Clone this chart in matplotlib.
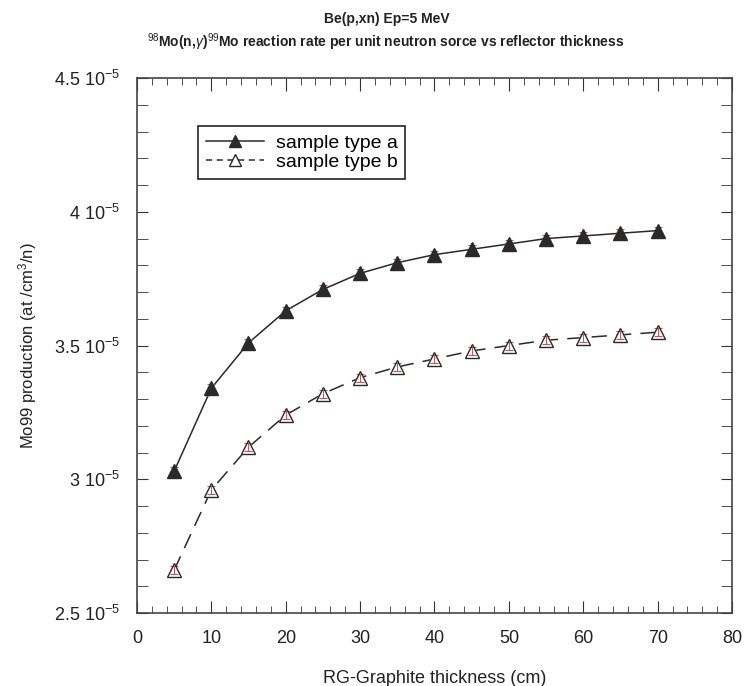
import matplotlib
matplotlib.use("Agg")
import matplotlib.pyplot as plt
from matplotlib.ticker import MultipleLocator, FuncFormatter

plt.rcParams['font.family'] = ['Liberation Sans', 'DejaVu Sans']
plt.rcParams['mathtext.fontset'] = 'custom'
plt.rcParams['mathtext.rm'] = 'Liberation Sans'
plt.rcParams['mathtext.it'] = 'Liberation Sans:italic'
plt.rcParams['mathtext.bf'] = 'Liberation Sans:bold'

# thickness (cm)
thickness = [5, 10, 15, 20, 25, 30, 35, 40, 45, 50, 55, 60, 65, 70]
# Mo99 production (at/cm3/n)
type_a = [3.03e-5, 3.34e-5, 3.51e-5, 3.63e-5, 3.71e-5, 3.77e-5, 3.81e-5,
          3.84e-5, 3.86e-5, 3.88e-5, 3.90e-5, 3.91e-5, 3.92e-5, 3.93e-5]
type_b = [2.66e-5, 2.96e-5, 3.12e-5, 3.24e-5, 3.32e-5, 3.38e-5, 3.42e-5,
          3.45e-5, 3.48e-5, 3.50e-5, 3.52e-5, 3.53e-5, 3.54e-5, 3.55e-5]
err = 0.015e-5

fig = plt.figure(figsize=(7.44, 6.86), dpi=100)
ax = fig.add_axes([0.184, 0.1064, 0.8, 0.7797])

lc = '#2a2a2a'
# lines
ax.plot(thickness, type_a, '-', color=lc, lw=1.1, zorder=1)
ax.plot(thickness, type_b, color=lc, lw=1.1, dashes=(10, 6), zorder=1)
# white fill under hollow markers
ax.plot(thickness, type_b, ls='none', marker='^', ms=9.5, mfc='white', mec='white', zorder=2)
# small red error bars
ax.errorbar(thickness, type_a, yerr=err, fmt='none', ecolor='#d05050', elinewidth=0.7,
            capsize=3, capthick=0.8, zorder=3)
ax.errorbar(thickness, type_b, yerr=err, fmt='none', ecolor='#d05050', elinewidth=0.7,
            capsize=3, capthick=0.8, zorder=3)
ax.plot(thickness, type_a, ls='none', marker='^', ms=9.5, mfc=lc, mec=lc, zorder=4)
ax.plot(thickness, type_b, ls='none', marker='^', ms=9.5, mfc='none', mec=lc, mew=1, zorder=4)

# legend proxies
ha, = ax.plot([], [], '-', color=lc, lw=1.1, marker='^', ms=8, mfc=lc, mec=lc)
hb, = ax.plot([], [], color=lc, lw=1.1, dashes=(4, 3), marker='^', ms=8, mfc='white', mec=lc)
leg = ax.legend([ha, hb], ['sample type a', 'sample type b'], loc='upper left',
                bbox_to_anchor=(0.1025, 0.91), borderaxespad=0, fontsize=14,
                fancybox=False, edgecolor='#222222', framealpha=1, handlelength=3,
                handletextpad=0.6, labelspacing=0.1, borderpad=0.4)
leg.get_frame().set_linewidth(1.2)

ax.set_xlim(0, 80)
ax.set_ylim(2.5e-5, 4.5e-5)
ax.xaxis.set_major_locator(MultipleLocator(10))
ax.xaxis.set_minor_locator(MultipleLocator(2))
ax.yaxis.set_major_locator(MultipleLocator(0.5e-5))
ax.yaxis.set_minor_locator(MultipleLocator(0.1e-5))
ax.yaxis.set_major_formatter(FuncFormatter(lambda v, p: f"{v*1e5:g} 10$^{{-5}}$"))

ax.tick_params(which='both', direction='in', top=True, right=True, colors='#333333',
               labelsize=13, labelcolor='#222222')
ax.tick_params(axis='x', which='major', length=9, pad=12)
ax.tick_params(axis='x', which='minor', length=5)
ax.tick_params(axis='y', which='both', length=8, pad=12)
for s in ax.spines.values():
    s.set_linewidth(1.2)
    s.set_color('#444444')

ax.set_xlabel('RG-Graphite thickness (cm)', fontsize=13, color='#222222', labelpad=17)
ax.set_ylabel('Mo99 production (at /cm$^3$/n)', fontsize=12, color='#222222', labelpad=11)

fig.text(0.52, 0.973, 'Be(p,xn) Ep=5 MeV', ha='center', va='center',
         fontsize=10, fontweight='bold', color='#222222')
fig.text(0.518, 0.938, r'$^{98}$Mo(n,$\gamma$)$^{99}$Mo reaction rate per unit neutron sorce vs reflector thickness',
         ha='center', va='center', fontsize=10, fontweight='bold', color='#222222')

fig.savefig('out.png', dpi=100)
